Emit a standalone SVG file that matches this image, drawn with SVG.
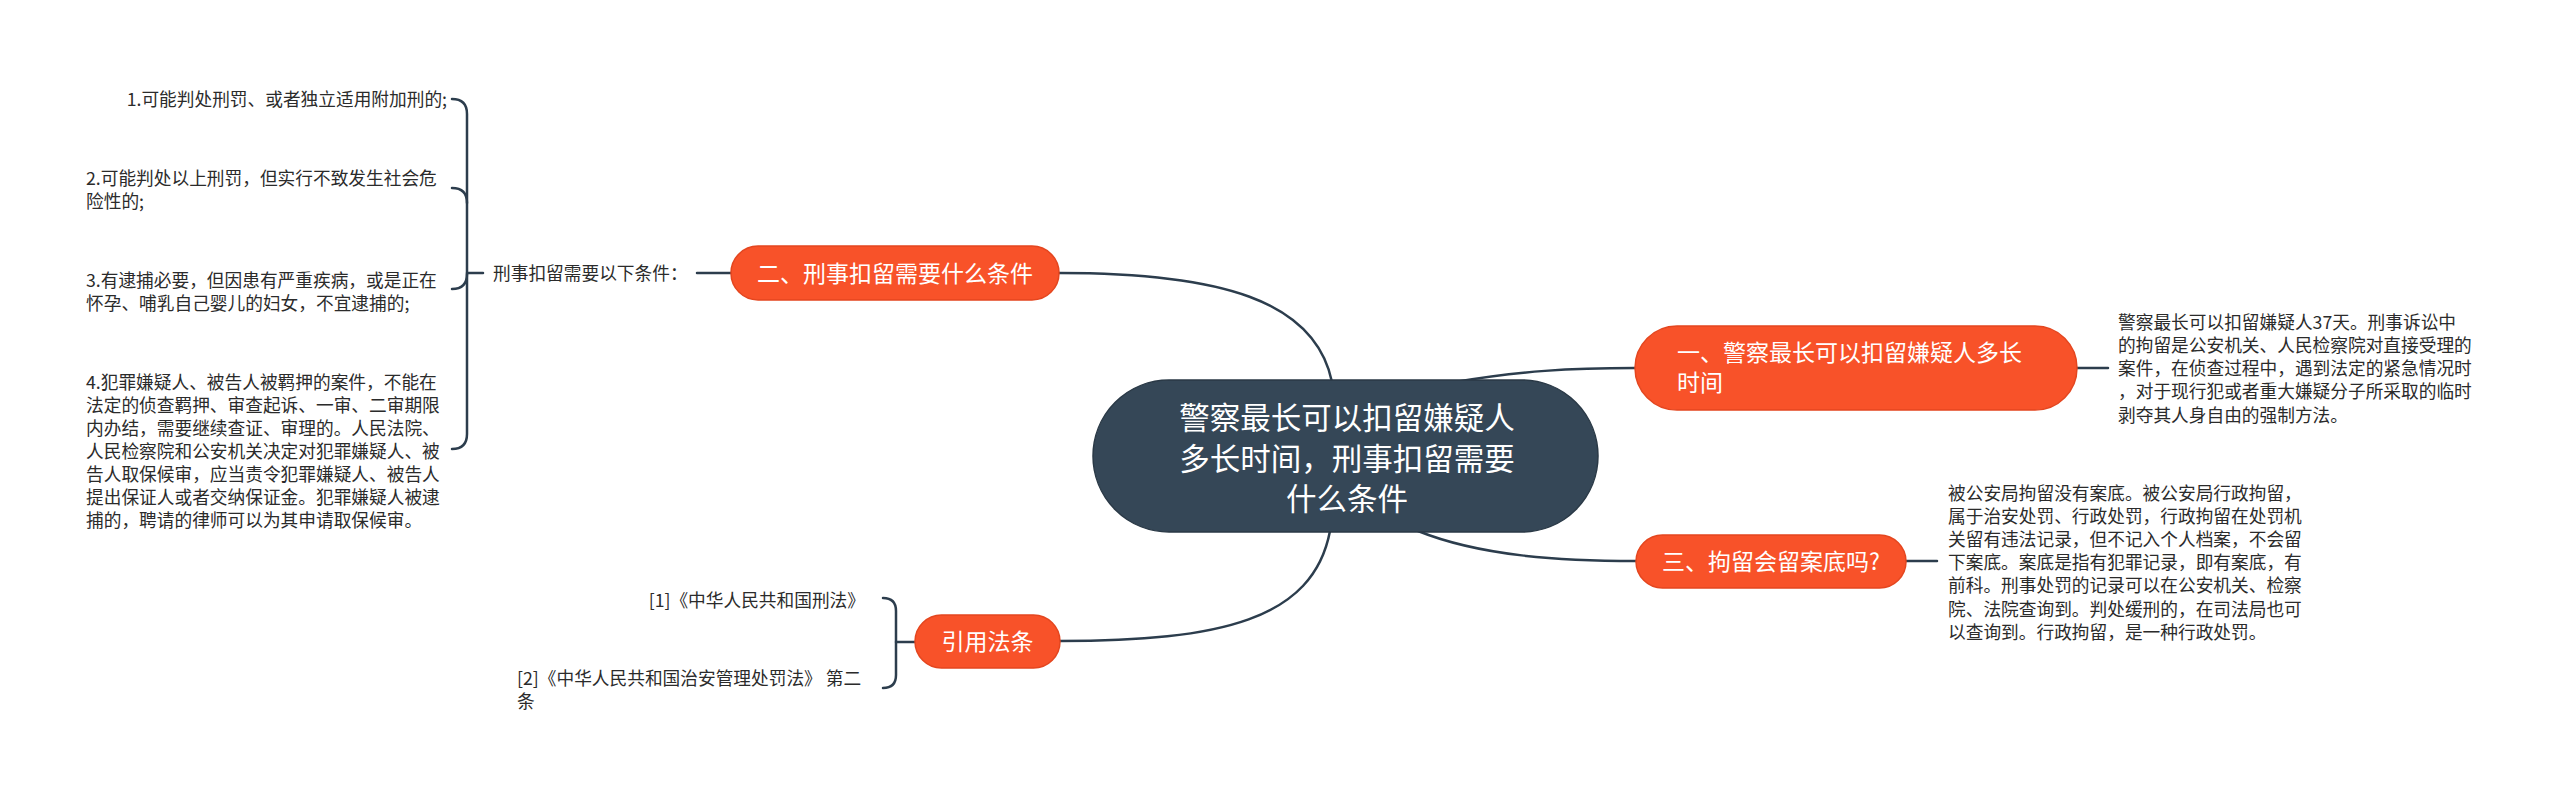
<svg xmlns="http://www.w3.org/2000/svg" width="2560" height="795" viewBox="0 0 2560 795">
<style>
.bg{fill:#ffffff}
.conn{fill:none;stroke:#2c3d4d;stroke-width:2.5;stroke-linecap:round}
.root{fill:#354757;stroke:#2a3946;stroke-width:1.5}
.pill{fill:#f85229;stroke:#e4461f;stroke-width:1.5}
.t{font-family:"Noto Sans CJK SC","Microsoft YaHei",sans-serif}
.rt{font-size:30.5px;fill:#ffffff;text-anchor:middle}
.bt{font-size:23px;fill:#ffffff}
.st{font-size:17.7px;fill:#2b2b2b}
</style>
<rect class="bg" x="0" y="0" width="2560" height="795"/>
<g id="connectors">
<path class="conn" d="M1332 382 C1315 300 1220 273 1059 273"/>
<path class="conn" d="M1330 531 C1313 620 1220 641 1060 641"/>
<path class="conn" d="M1455 382 C1520 371 1570 368 1635 368"/>
<path class="conn" d="M1418 531 C1480 556 1560 561 1636 561"/>
<path class="conn" d="M2077 368 L2108 368"/>
<path class="conn" d="M1906 561 L1937 561"/>
<path class="conn" d="M697 273 L731 273"/>
<path class="conn" d="M452 99 Q467 99 467 114 L467 434 Q467 449 452 449"/>
<path class="conn" d="M452 188 Q467 188 467 203"/>
<path class="conn" d="M452 289 Q467 289 467 274"/>
<path class="conn" d="M467 273 L483 273"/>
<path class="conn" d="M883 598 Q896 598 896 611 L896 675 Q896 688 883 688"/>
<path class="conn" d="M896 642 L915 642"/>
</g>
<g id="root">
<rect class="root" x="1093" y="380" width="505" height="152" rx="76"/>
<text class="t rt" x="1347" y="428.5">警察最长可以扣留嫌疑人</text>
<text class="t rt" x="1347" y="469.5">多长时间，刑事扣留需要</text>
<text class="t rt" x="1347" y="509.5">什么条件</text>
</g>
<g id="branch1">
<rect class="pill" x="1635" y="326" width="442" height="84" rx="42"/>
<text class="t bt" x="1677" y="360.5">一、警察最长可以扣留嫌疑人多长</text>
<text class="t bt" x="1677" y="390.5">时间</text>
</g>
<g id="branch1-detail">
<text class="t st" x="2118" y="328.5">警察最长可以扣留嫌疑人37天。刑事诉讼中</text>
<text class="t st" x="2118" y="351.8">的拘留是公安机关、人民检察院对直接受理的</text>
<text class="t st" x="2118" y="375.1">案件，在侦查过程中，遇到法定的紧急情况时</text>
<text class="t st" x="2118" y="398.4">，对于现行犯或者重大嫌疑分子所采取的临时</text>
<text class="t st" x="2118" y="421.7">剥夺其人身自由的强制方法。</text>
</g>
<g id="branch2">
<rect class="pill" x="731" y="246" width="328" height="54" rx="27"/>
<text class="t bt" x="895" y="281.5" text-anchor="middle">二、刑事扣留需要什么条件</text>
</g>
<g id="branch2-label">
<text class="t st" x="493" y="279.5">刑事扣留需要以下条件：</text>
</g>
<g id="item1">
<text class="t st" x="447" y="105.5" text-anchor="end">1.可能判处刑罚、或者独立适用附加刑的;</text>
</g>
<g id="item2">
<text class="t st" x="86" y="184.5">2.可能判处以上刑罚，但实行不致发生社会危</text>
<text class="t st" x="86" y="208">险性的;</text>
</g>
<g id="item3">
<text class="t st" x="86" y="286.5">3.有逮捕必要，但因患有严重疾病，或是正在</text>
<text class="t st" x="86" y="309.5">怀孕、哺乳自己婴儿的妇女，不宜逮捕的;</text>
</g>
<g id="item4">
<text class="t st" x="86" y="388.5">4.犯罪嫌疑人、被告人被羁押的案件，不能在</text>
<text class="t st" x="86" y="411.5">法定的侦查羁押、审查起诉、一审、二审期限</text>
<text class="t st" x="86" y="434.5">内办结，需要继续查证、审理的。人民法院、</text>
<text class="t st" x="86" y="457.5">人民检察院和公安机关决定对犯罪嫌疑人、被</text>
<text class="t st" x="86" y="480.5">告人取保候审，应当责令犯罪嫌疑人、被告人</text>
<text class="t st" x="86" y="503.5">提出保证人或者交纳保证金。犯罪嫌疑人被逮</text>
<text class="t st" x="86" y="526.5">捕的，聘请的律师可以为其申请取保候审。</text>
</g>
<g id="branch3">
<rect class="pill" x="1636" y="535" width="270" height="53" rx="26.5"/>
<text class="t bt" x="1771" y="570" text-anchor="middle">三、拘留会留案底吗?</text>
</g>
<g id="branch3-detail">
<text class="t st" x="1948" y="499.5">被公安局拘留没有案底。被公安局行政拘留，</text>
<text class="t st" x="1948" y="522.7">属于治安处罚、行政处罚，行政拘留在处罚机</text>
<text class="t st" x="1948" y="545.9">关留有违法记录，但不记入个人档案，不会留</text>
<text class="t st" x="1948" y="569.1">下案底。案底是指有犯罪记录，即有案底，有</text>
<text class="t st" x="1948" y="592.3">前科。刑事处罚的记录可以在公安机关、检察</text>
<text class="t st" x="1948" y="615.5">院、法院查询到。判处缓刑的，在司法局也可</text>
<text class="t st" x="1948" y="638.7">以查询到。行政拘留，是一种行政处罚。</text>
</g>
<g id="branch4">
<rect class="pill" x="915" y="615" width="145" height="53" rx="26.5"/>
<text class="t bt" x="987.5" y="650" text-anchor="middle">引用法条</text>
</g>
<g id="cite1">
<text class="t st" x="865" y="606.5" text-anchor="end">[1]《中华人民共和国刑法》</text>
</g>
<g id="cite2">
<text class="t st" x="517" y="684.5">[2]《中华人民共和国治安管理处罚法》 第二</text>
<text class="t st" x="517" y="707.5">条</text>
</g>
</svg>
